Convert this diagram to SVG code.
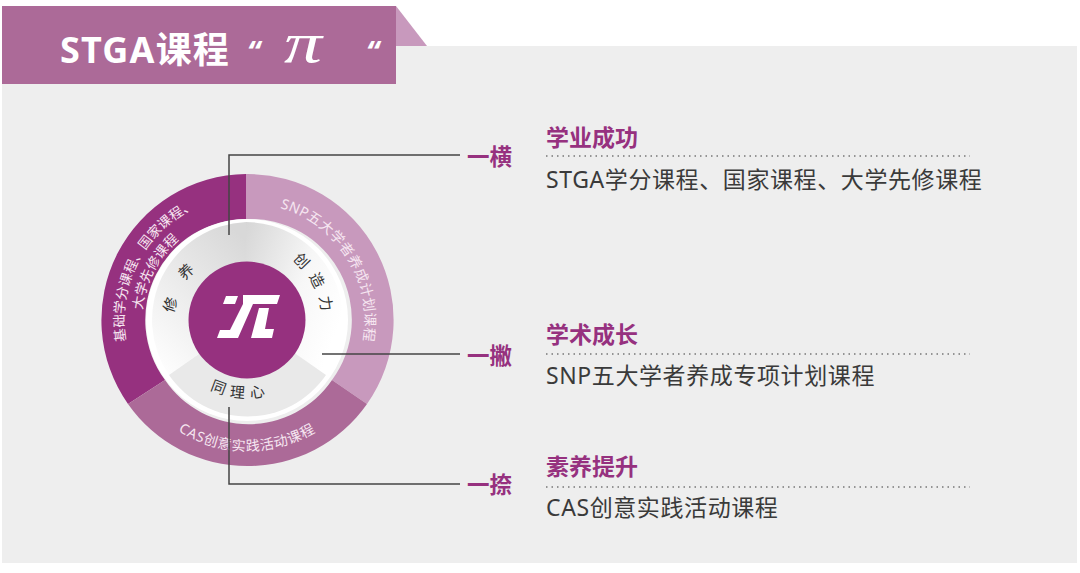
<svg xmlns="http://www.w3.org/2000/svg" width="1080" height="573" viewBox="0 0 1080 573">
<style>
text{font-family:"Noto Sans","Noto Sans CJK SC",sans-serif}
.ring{font-size:13.5px;fill:#f6e6f1}
.ring2{font-size:14px;fill:#f6e6f1}
.inner{font-size:15px;fill:#333}
.tag{font-size:22.5px;font-weight:700;fill:#96317f}
.head{font-size:23px;font-weight:700;fill:#96317f}
.body{font-size:23px;fill:#3a3a3a;letter-spacing:.6px}
.dot{stroke:#777;stroke-width:1.3;stroke-dasharray:1.5 4;fill:none}
.line{stroke:#444;stroke-width:1.5;fill:none}
</style>
<defs>
<linearGradient id="gl" x1="0.8" y1="0" x2="0.2" y2="1"><stop offset="0" stop-color="#d8d8d8"/><stop offset="1" stop-color="#fdfdfd"/></linearGradient>
<linearGradient id="gr" x1="0" y1="0" x2="1" y2="0.6"><stop offset="0" stop-color="#d6d6d6"/><stop offset=".6" stop-color="#f7f7f7"/><stop offset="1" stop-color="#fff"/></linearGradient>
<path id="p1" d="M126,341 A123,123 0 0 1 200,206"/>
<path id="p2" d="M142.500,310 A105,105 0 0 1 185,235"/>
<path id="p3" d="M280,208 A117,117 0 0 1 361,351"/>
<path id="p4" d="M178,431 A131,131 0 0 0 320,429"/>
<path id="p5" d="M175,314 A72,72 0 0 1 215,256"/>
<path id="p6" d="M292,260 A75,75 0 0 1 322,320"/>
<path id="p7" d="M210,389 A78,78 0 0 0 300,377"/>
</defs>
<rect width="1080" height="573" fill="#fff"/>
<rect x="2" y="46" width="1075" height="517" fill="#eeeeee"/>
<g id="banner">
<polygon points="396,6 427,46 396,46" fill="#c899bd"/>
<rect x="2" y="6" width="394" height="78" fill="#ac6a98"/>
<text x="60" y="63" font-size="36" font-weight="700" fill="#fff" letter-spacing="1.200">STGA课程</text>
<text x="247" y="63" font-size="30" font-weight="700" font-style="italic" fill="#fff">“</text>
<text x="284" y="62" font-size="58" font-style="italic" fill="#fff" textLength="38" lengthAdjust="spacingAndGlyphs" style="font-family:'Liberation Serif',serif">π</text>
<text x="366" y="63" font-size="30" font-weight="700" font-style="italic" fill="#fff">“</text>
</g>
<g id="wheel">
<path id="seg-left" d="M246,174 A146,146 0 0 0 128,404 L165,380 A101,101 0 0 1 246,219 Z" fill="#96317f"/>
<path id="seg-right" d="M246,174 A146,146 0 0 1 367,404 L332,380 A101,101 0 0 0 246,219 Z" fill="#c899bd"/>
<path id="seg-bottom" d="M128,404 A146,146 0 0 0 367,404 L332,380 A101,101 0 0 1 165,380 Z" fill="#ac6a98"/>
<circle cx="247" cy="320" r="101" fill="#fff"/>
<path d="M246,320 L246,222 A98,98 0 0 0 169,375 Z" fill="url(#gl)"/>
<path d="M246,320 L246,222 A98,98 0 0 1 326,375 Z" fill="url(#gr)"/>
<path d="M247,320 L169,375 A95,95 0 0 0 326,375 Z" fill="#e9e9e9"/>
<circle cx="247" cy="320" r="58.5" fill="#96317f"/>
<g fill="#fff">
<path d="M226,296 L238,296 L235,304 L223,304 Z"/>
<path d="M243,295 L280,295 L277,304 L253,304 L238,338 L217,338 L220,330 L230,330 L243,304 Z"/>
<path d="M259,308 L269,308 L265,329 L274,329 L272,338 L251,338 Z"/>
</g>
<text class="ring"><textPath href="#p1">基础学分课程、国家课程、</textPath></text>
<text class="ring"><textPath href="#p2">大学先修课程</textPath></text>
<text class="ring2"><textPath href="#p3" letter-spacing=".4">SNP五大学者养成计划课程</textPath></text>
<text class="ring2"><textPath href="#p4" letter-spacing=".7">CAS创意实践活动课程</textPath></text>
<text class="inner"><textPath href="#p5" letter-spacing="19">修养</textPath></text>
<text class="inner"><textPath href="#p6" letter-spacing="8">创造力</textPath></text>
<text class="inner"><textPath href="#p7" letter-spacing="6">同理心</textPath></text>
</g>
<g id="connectors">
<path class="line" d="M229,235 V155 H460"/>
<path class="line" d="M322,354 H460"/>
<path class="line" d="M229,407 V484 H460"/>
</g>
<g id="item-1">
<text class="tag" x="467" y="165">一横</text>
<text class="head" x="546" y="146">学业成功</text>
<path class="dot" d="M546,156 H970"/>
<text class="body" x="546" y="188">STGA学分课程、国家课程、大学先修课程</text>
</g>
<g id="item-2">
<text class="tag" x="467" y="364">一撇</text>
<text class="head" x="546" y="343">学术成长</text>
<path class="dot" d="M546,354 H970"/>
<text class="body" x="546" y="384">SNP五大学者养成专项计划课程</text>
</g>
<g id="item-3">
<text class="tag" x="467" y="493">一捺</text>
<text class="head" x="546" y="475">素养提升</text>
<path class="dot" d="M546,487 H970"/>
<text class="body" x="546" y="516">CAS创意实践活动课程</text>
</g>
</svg>
